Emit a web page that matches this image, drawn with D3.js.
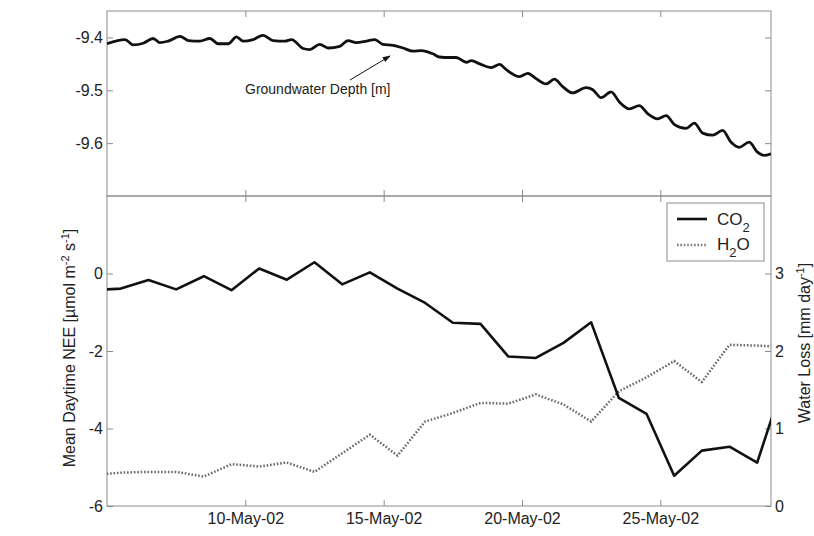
<!DOCTYPE html>
<html lang="en">
<head>
<meta charset="UTF-8">
<title>groundwater depth and daytime NEE</title>
<script src="https://d3js.org/d3.v7.min.js"></script>
<style>
  body { margin: 0; background: #fff; }
  svg { display: block; font-family: "Liberation Sans", Arial, Helvetica, sans-serif; }
  .axis path { display: none; }
  .axis line { stroke: #8c8c8c; }
  .axis text { fill: #222; font-size: 16px; }
  .frame { fill: none; stroke: #8c8c8c; }
</style>
</head>
<body>
<svg id="chart" width="814" height="536"></svg>
<script>
// groundwater depth (day of May 2002, metres)
const gwDay = [5.00, 5.65, 5.95, 6.31, 6.67, 6.91, 7.21, 7.64, 7.94, 8.36, 8.72, 9.02, 9.38, 9.68, 9.92,
  10.28, 10.64, 11.00, 11.43, 11.67, 12.09, 12.33, 12.69, 12.99, 13.41, 13.71, 14.01, 14.38, 14.68, 14.97,
  15.34, 15.70, 16.06, 16.36, 16.78, 17.02, 17.38, 17.62, 17.99, 18.17, 18.47, 18.89, 19.19, 19.43, 19.91,
  20.21, 20.51, 20.87, 21.17, 21.47, 21.83, 22.32, 22.56, 22.86, 23.22, 23.52, 23.88, 24.24, 24.54, 24.90,
  25.21, 25.51, 25.93, 26.23, 26.53, 26.89, 27.25, 27.55, 27.85, 28.21, 28.51, 28.75, 29.00];
const gwDepth = [-9.412, -9.404, -9.414, -9.411, -9.402, -9.410, -9.407, -9.398, -9.406, -9.407, -9.402, -9.412, -9.412, -9.399, -9.407,
  -9.404, -9.396, -9.406, -9.407, -9.404, -9.421, -9.423, -9.413, -9.420, -9.417, -9.406, -9.410, -9.407, -9.404, -9.413,
  -9.415, -9.420, -9.426, -9.425, -9.431, -9.437, -9.438, -9.438, -9.447, -9.444, -9.450, -9.457, -9.451, -9.461, -9.474,
  -9.468, -9.478, -9.488, -9.479, -9.493, -9.505, -9.495, -9.499, -9.514, -9.503, -9.522, -9.535, -9.529, -9.544, -9.554,
  -9.548, -9.565, -9.572, -9.562, -9.581, -9.585, -9.576, -9.598, -9.608, -9.598, -9.617, -9.623, -9.620];

// daily means (noon of each day in May 2002)
const ecoDay = [4.5, 5.5, 6.5, 7.5, 8.5, 9.5, 10.5, 11.5, 12.5, 13.5, 14.5, 15.5, 16.5,
  17.5, 18.5, 19.5, 20.5, 21.5, 22.5, 23.5, 24.5, 25.5, 26.5, 27.5, 28.5, 29.5];
const co2 = [-0.43, -0.39, -0.17, -0.41, -0.07, -0.43, 0.13, -0.16, 0.29, -0.28, 0.03, -0.39, -0.76,
  -1.27, -1.30, -2.14, -2.18, -1.79, -1.26, -3.21, -3.62, -5.22, -4.57, -4.47, -4.88, -2.70];
const h2o = [0.40, 0.43, 0.44, 0.44, 0.38, 0.54, 0.51, 0.56, 0.44, 0.68, 0.92, 0.65, 1.09,
  1.20, 1.33, 1.32, 1.44, 1.31, 1.09, 1.48, 1.66, 1.87, 1.60, 2.08, 2.07, 2.05];

const dateTicks = [10, 15, 20, 25];
const depthTicks = [-9.4, -9.5, -9.6];
const neeTicks = [-6, -4, -2, 0];
const lossTicks = [0, 1, 2, 3];

const plotLeft = 107, plotTop = 11, width = 664, topH = 185, botH = 310;

const may = d => new Date(Date.UTC(2002, 4, 1) + (d - 1) * 864e5);
const plain = d => String(d); // keep ascii hyphen for negatives, like the original

const x = d3.scaleUtc().domain([may(5), may(29)]).range([0, width]);
const yDepth = d3.scaleLinear().domain([-9.7, -9.35]).range([topH, 0]);
const yNee = d3.scaleLinear().domain([-6, 2]).range([botH, 0]);
const yLoss = d3.scaleLinear().domain([0, 4]).range([botH, 0]);

const svg = d3.select("#chart");
const defs = svg.append("defs");
defs.append("clipPath").attr("id", "clipTop").append("rect").attr("width", width).attr("height", topH);
defs.append("clipPath").attr("id", "clipBot").append("rect").attr("width", width).attr("height", botH);
defs.append("marker").attr("id", "head").attr("viewBox", "0 0 10 10").attr("refX", 9).attr("refY", 5)
  .attr("markerWidth", 8).attr("markerHeight", 8).attr("orient", "auto").attr("markerUnits", "userSpaceOnUse")
  .append("path").attr("d", "M0,1.5 L10,5 L0,8.5 Z").attr("fill", "#111");

const tickDates = dateTicks.map(may);
const fmt = d3.utcFormat("%d-%b-%y");

// ---- top panel: groundwater depth
const gt = svg.append("g").attr("transform", `translate(${plotLeft},${plotTop})`);
gt.append("g").attr("class", "axis").call(d3.axisLeft(yDepth).tickValues(depthTicks).tickSize(-6).tickPadding(4).tickFormat(plain));
gt.append("g").attr("class", "axis").attr("transform", `translate(${width},0)`).call(d3.axisRight(yDepth).tickValues(depthTicks).tickSize(-6).tickFormat(""));
gt.append("g").attr("class", "axis").call(d3.axisTop(x).tickValues(tickDates).tickSize(-6).tickFormat(""));
gt.append("g").attr("class", "axis").attr("transform", `translate(0,${topH})`).call(d3.axisBottom(x).tickValues(tickDates).tickSize(-6).tickFormat(""));
gt.append("rect").attr("class", "frame").attr("width", width).attr("height", topH);

const gwLine = d3.line().x((d, i) => x(may(gwDay[i]))).y(d => yDepth(d)).curve(d3.curveMonotoneX);
gt.append("path").datum(gwDepth).attr("clip-path", "url(#clipTop)")
  .attr("fill", "none").attr("stroke", "#111").attr("stroke-width", 2.8).attr("stroke-linejoin", "round")
  .attr("d", gwLine);

gt.append("text").attr("x", 138).attr("y", 82.5).attr("font-size", 14).attr("fill", "#222")
  .text("Groundwater Depth [m]");
gt.append("line").attr("x1", 243).attr("y1", 69).attr("x2", 283).attr("y2", 45)
  .attr("stroke", "#111").attr("stroke-width", 1).attr("marker-end", "url(#head)");

// ---- bottom panel: NEE and water loss
const gb = svg.append("g").attr("transform", `translate(${plotLeft},${plotTop + topH})`);
gb.append("g").attr("class", "axis").call(d3.axisLeft(yNee).tickValues(neeTicks).tickSize(-6).tickPadding(4).tickFormat(plain));
gb.append("g").attr("class", "axis").attr("transform", `translate(${width},0)`).call(d3.axisRight(yLoss).tickValues(lossTicks).tickSize(-6).tickPadding(4).tickFormat(plain));
gb.append("g").attr("class", "axis").call(d3.axisTop(x).tickValues(tickDates).tickSize(-6).tickFormat(""));
gb.append("g").attr("class", "axis").attr("transform", `translate(0,${botH})`).call(d3.axisBottom(x).tickValues(tickDates).tickSize(-6).tickPadding(7).tickFormat(fmt));
gb.append("rect").attr("class", "frame").attr("width", width).attr("height", botH);

const h2oLine = d3.line().x((d, i) => x(may(ecoDay[i]))).y(d => yLoss(d));
const co2Line = d3.line().x((d, i) => x(may(ecoDay[i]))).y(d => yNee(d));
gb.append("path").datum(h2o).attr("clip-path", "url(#clipBot)")
  .attr("fill", "none").attr("stroke", "#6a6a6a").attr("stroke-width", 2.5).attr("stroke-dasharray", "1.6 1.8")
  .attr("d", h2oLine);
gb.append("path").datum(co2).attr("clip-path", "url(#clipBot)")
  .attr("fill", "none").attr("stroke", "#111").attr("stroke-width", 2.6).attr("stroke-linejoin", "round")
  .attr("d", co2Line);

// legend
const lg = gb.append("g").attr("transform", `translate(${width - 104},7)`);
lg.append("rect").attr("width", 97).attr("height", 58).attr("fill", "#fff").attr("stroke", "#8c8c8c");
lg.append("line").attr("x1", 10).attr("x2", 40).attr("y1", 16).attr("y2", 16).attr("stroke", "#111").attr("stroke-width", 2.6);
lg.append("line").attr("x1", 10).attr("x2", 40).attr("y1", 42).attr("y2", 42).attr("stroke", "#7a7a7a").attr("stroke-width", 2.5).attr("stroke-dasharray", "1.6 1.8");
const t1 = lg.append("text").attr("x", 50).attr("y", 22).attr("font-size", 17).attr("fill", "#222");
t1.append("tspan").text("CO");
t1.append("tspan").attr("font-size", 13).attr("dy", 7).text("2");
const t2 = lg.append("text").attr("x", 50).attr("y", 47).attr("font-size", 17).attr("fill", "#222");
t2.append("tspan").text("H");
t2.append("tspan").attr("font-size", 13).attr("dy", 7).text("2");
t2.append("tspan").attr("dy", -7).text("O");

// axis titles
const yl = svg.append("text").attr("transform", "translate(75,348) rotate(-90)").attr("text-anchor", "middle")
  .attr("font-size", 16).attr("fill", "#222");
yl.append("tspan").text("Mean Daytime NEE [\u00b5mol m");
yl.append("tspan").attr("font-size", 11).attr("dy", -6).text("-2");
yl.append("tspan").attr("dy", 6).text(" s");
yl.append("tspan").attr("font-size", 11).attr("dy", -6).text("-1");
yl.append("tspan").attr("dy", 6).text("]");

const yr = svg.append("text").attr("transform", "translate(810,343) rotate(-90)").attr("text-anchor", "middle")
  .attr("font-size", 16).attr("fill", "#222");
yr.append("tspan").text("Water Loss [mm day");
yr.append("tspan").attr("font-size", 11).attr("dy", -6).text("-1");
yr.append("tspan").attr("dy", 6).text("]");
</script>
</body>
</html>
